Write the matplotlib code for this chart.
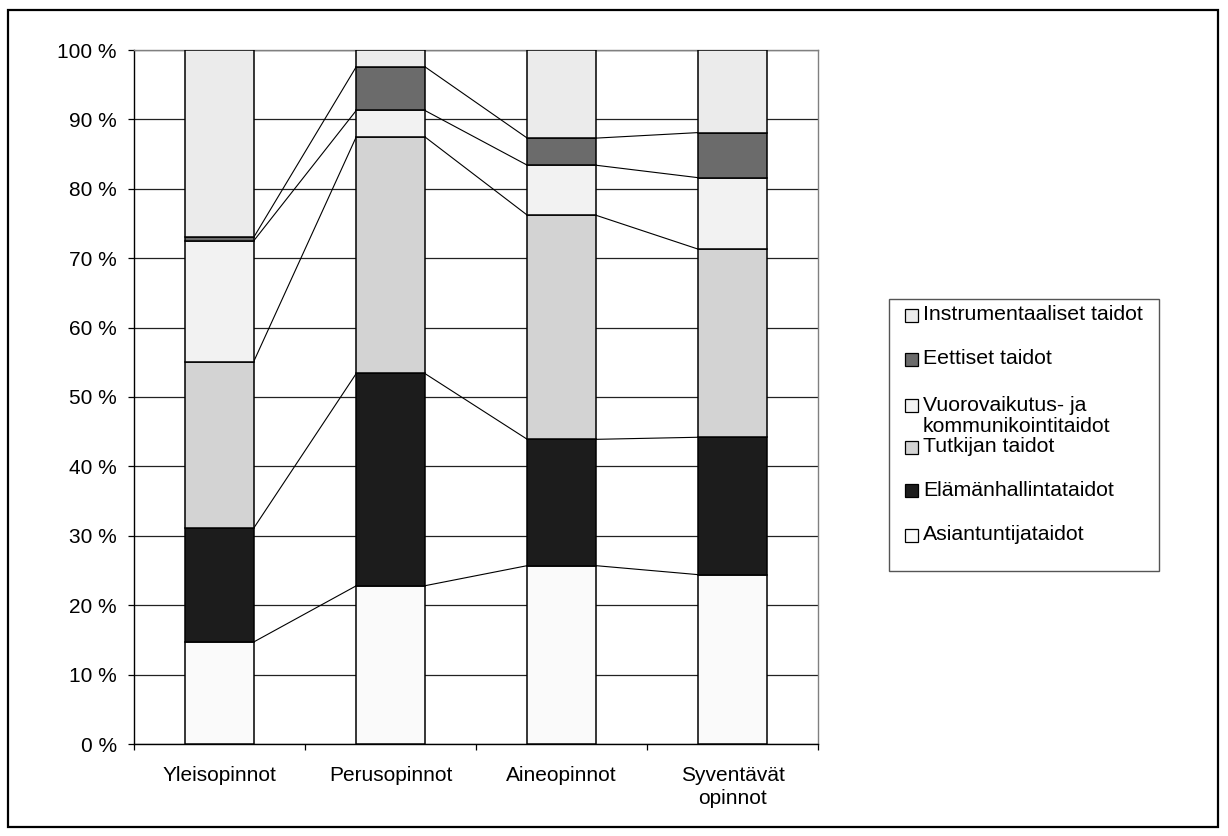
import matplotlib
matplotlib.use("Agg")
from matplotlib import pyplot as plt
from matplotlib.patches import Rectangle
import numpy as np

plt.rcParams['font.family'] = ['Liberation Sans', 'DejaVu Sans']
plt.rcParams['font.size'] = 15

# data (percent of each study level), bottom to top
categories = ['Yleisopinnot', 'Perusopinnot', 'Aineopinnot', 'Syventävät\nopinnot']
series_names = ['Asiantuntijataidot', 'Elämänhallintataidot', 'Tutkijan taidot',
                'Vuorovaikutus- ja\nkommunikointitaidot', 'Eettiset taidot',
                'Instrumentaaliset taidot']
asiantuntija = [14.7, 22.8, 25.7, 24.4]
elamanhallinta = [16.4, 30.6, 18.2, 19.8]
tutkija = [24.0, 34.1, 32.3, 27.1]
vuorovaikutus = [17.4, 3.8, 7.2, 10.3]
eettiset = [0.5, 6.3, 3.9, 6.5]
instrumentaaliset = [27.0, 2.4, 12.7, 11.9]

colors = ['#fafafa', '#1c1c1c', '#d3d3d3', '#f2f2f2', '#6b6b6b', '#ebebeb']

W, H = 1228, 836
fig = plt.figure(figsize=(W / 100, H / 100), dpi=100)

# outer chart border
fig.add_artist(Rectangle((8 / W, 9 / H), 1210 / W, 817 / H, transform=fig.transFigure,
                         fill=False, ec='black', lw=1.6))

ax = fig.add_axes([134 / W, (H - 744) / H, 684 / W, 694 / H])

data = np.array([asiantuntija, elamanhallinta, tutkija, vuorovaikutus, eettiset, instrumentaaliset])
x = np.arange(len(categories))
bw = 0.4
bottom = np.zeros(len(categories))
for vals, c in zip(data, colors):
    ax.bar(x, vals, bw, bottom=bottom, color=c, edgecolor='black', linewidth=1.1, zorder=3)
    bottom = bottom + vals
    # series lines between bars
    for i in range(len(categories) - 1):
        ax.plot([x[i] + bw / 2, x[i + 1] - bw / 2], [bottom[i], bottom[i + 1]],
                color='black', lw=0.8, zorder=2)

ax.set_xlim(-0.5, len(categories) - 0.5)
ax.set_ylim(0, 100)
ax.set_yticks(np.arange(0, 101, 10))
ax.set_yticklabels([f'{v} %' for v in range(0, 101, 10)])
ax.yaxis.grid(True, color='#222222', lw=0.9, zorder=0)
ax.tick_params(axis='y', direction='out', length=4.5, width=0.9, pad=8)

ax.set_xticks(np.arange(-0.5, len(categories), 1.0))
ax.set_xticklabels([])
ax.tick_params(axis='x', which='major', direction='out', length=4.5, width=0.9)
ax.set_xticks(x, minor=True)
ax.set_xticklabels(categories, minor=True, linespacing=1.25)
ax.tick_params(axis='x', which='minor', length=0, pad=16)

for s in ['left', 'bottom']:
    ax.spines[s].set_color('black')
    ax.spines[s].set_linewidth(1.0)
for s in ['top', 'right']:
    ax.spines[s].set_color('#808080')
    ax.spines[s].set_linewidth(1.0)

# legend box drawn in pixel positions like the original
fig.add_artist(Rectangle((889 / W, (H - 571) / H), 270 / W, 272 / H, transform=fig.transFigure,
                         fill=True, fc='white', ec='#555555', lw=1.0))
leg_y = [315, 359, 416, 447, 490, 535]
order = list(range(len(series_names)))[::-1]
for k, idx in enumerate(order):
    yc = leg_y[k]
    ym = yc if idx != 3 else 405
    fig.add_artist(Rectangle((905 / W, (H - ym - 6.5) / H), 13 / W, 13 / H, transform=fig.transFigure,
                             fc=colors[idx], ec='black', lw=0.9))
    fig.text(923 / W, (H - yc) / H, series_names[idx], va='center', ha='left',
             fontsize=15.3, linespacing=1.1)

fig.savefig('out.png', dpi=100)
